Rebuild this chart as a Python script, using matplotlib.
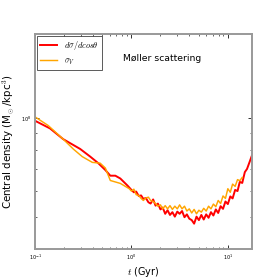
import numpy as np
import matplotlib
matplotlib.use('Agg')
import matplotlib.pyplot as plt
from matplotlib.ticker import NullFormatter

# time (Gyr) and central density (1e7 Msun/kpc^3)
t_red = np.array([0.100, 0.143, 0.196, 0.294, 0.374, 0.453, 0.536, 0.604, 0.681, 0.767, 0.908,
                  1.00, 1.06, 1.12, 1.19, 1.26, 1.33, 1.41, 1.50, 1.58, 1.68, 1.78, 1.88,
                  2.00, 2.11, 2.24, 2.37, 2.51, 2.66, 2.82, 2.99, 3.16, 3.35, 3.55, 3.76,
                  3.98, 4.22, 4.47, 4.73, 5.01, 5.31, 5.62, 5.96, 6.31, 6.68, 7.08, 7.50,
                  7.94, 8.41, 8.91, 9.44, 10.0, 10.6, 11.2, 11.9, 12.6, 13.3, 14.1, 15.0,
                  15.8, 16.8, 17.8])
rho_red = np.array([9.80, 9.29, 8.62, 8.05, 7.63, 7.29, 6.95, 6.68, 6.68, 6.55, 6.24,
                    6.05, 5.95, 5.98, 5.80, 5.82, 5.68, 5.72, 5.55, 5.50, 5.66, 5.42, 5.50,
                    5.28, 5.35, 5.12, 5.25, 5.08, 5.18, 5.02, 5.20, 5.12, 5.22, 5.00, 5.10,
                    4.95, 4.90, 4.78, 5.02, 4.90, 5.08, 4.92, 5.10, 4.98, 5.18, 5.06, 5.28,
                    5.15, 5.40, 5.30, 5.58, 5.48, 5.78, 5.70, 6.05, 6.00, 6.40, 6.35, 6.85,
                    7.00, 7.35, 7.70])

t_orange = np.array([0.100, 0.137, 0.196, 0.249, 0.309, 0.393, 0.474, 0.536, 0.604, 0.767, 0.95,
                     1.00, 1.06, 1.12, 1.19, 1.26, 1.33, 1.41, 1.50, 1.58, 1.68, 1.78, 1.88,
                     2.00, 2.11, 2.24, 2.37, 2.51, 2.66, 2.82, 2.99, 3.16, 3.35, 3.55, 3.76,
                     3.98, 4.22, 4.47, 4.73, 5.01, 5.31, 5.62, 5.96, 6.31, 6.68, 7.08, 7.50,
                     7.94, 8.41, 8.91, 9.44, 10.0, 10.6, 11.2, 11.9, 12.6, 13.3, 14.1])
rho_orange = np.array([10.07, 9.48, 8.62, 8.05, 7.63, 7.33, 7.29, 7.05, 6.46, 6.33, 6.10,
                       6.00, 6.08, 5.85, 5.82, 5.70, 5.62, 5.72, 5.75, 5.62, 5.58, 5.50, 5.40,
                       5.45, 5.30, 5.42, 5.30, 5.42, 5.28, 5.40, 5.30, 5.45, 5.30, 5.40, 5.22,
                       5.30, 5.15, 5.28, 5.12, 5.25, 5.18, 5.32, 5.22, 5.40, 5.30, 5.48, 5.38,
                       5.62, 5.50, 5.80, 5.70, 6.10, 5.95, 6.30, 6.20, 6.50, 6.45, 6.60])

labels = [r'$d\sigma/dcos\theta$', r'$\sigma_V$']

plt.rcParams['mathtext.fontset'] = 'cm'
plt.rcParams['xtick.direction'] = 'in'
plt.rcParams['ytick.direction'] = 'in'

fig = plt.figure(figsize=(4, 4), dpi=70)
ax = fig.add_subplot(111)

ax.plot(t_red, rho_red * 1e7, color='red', lw=2, label=labels[0])
ax.plot(t_orange, rho_orange * 1e7, color='orange', lw=1.5, label=labels[1])

ax.set_xscale('log')
ax.set_yscale('log')
ax.set_xlim(0.1, 17.8)
ax.set_ylim(4e7, 1.8e8)
ax.xaxis.set_minor_formatter(NullFormatter())
ax.yaxis.set_minor_formatter(NullFormatter())

for s in ax.spines.values():
    s.set_color('#999999')
    s.set_linewidth(2)
ax.tick_params(which='both', top=True, right=True, labelsize=5, color='black')
ax.tick_params(which='major', length=4, width=0.8)
ax.tick_params(which='minor', length=2, width=0.6)

ax.set_xlabel(r'$t$ (Gyr)', fontsize=10, labelpad=3)
ax.set_ylabel(r'Central density (M$_\odot$/kpc$^3$)', fontsize=10.5, labelpad=6)

leg = ax.legend(loc='upper left', fontsize=8.5, handlelength=2.0, fancybox=False,
                borderaxespad=0.25)
leg.get_frame().set_edgecolor('black')
leg.get_frame().set_linewidth(0.8)

ax.text(0.405, 0.885, u'M\u00f8ller scattering', transform=ax.transAxes, fontsize=9.5,
        va='center')

plt.savefig('out.png', dpi=70)
